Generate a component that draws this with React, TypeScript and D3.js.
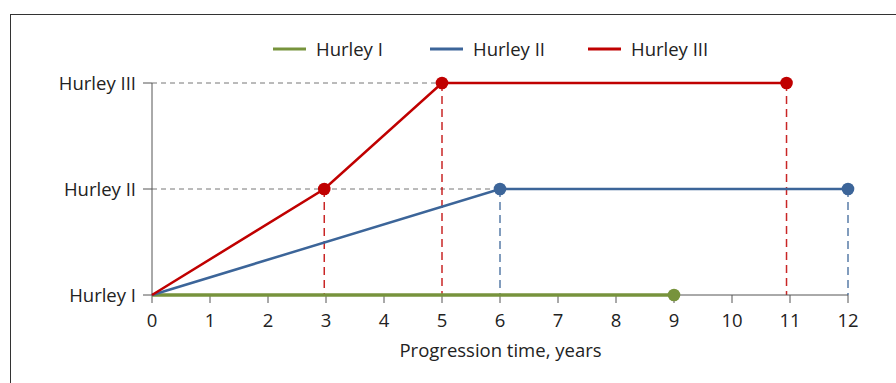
import React from "react";
import * as d3 from "d3";

const xTicks = [0, 1, 2, 3, 4, 5, 6, 7, 8, 9, 10, 11, 12];
const stages = ["Hurley I", "Hurley II", "Hurley III"];
const seriesNames = ["Hurley I", "Hurley II", "Hurley III"];
const seriesColors = ["#77933c", "#3c6599", "#c00000"];
const greenX = [0, 9];
const greenY = [0, 0];
const blueX = [0, 6, 12];
const blueY = [0, 1, 1];
const redX = [0, 2.97, 5, 10.94];
const redY = [0, 1, 2, 2];
// dots: index of points shown with markers
const greenDots = [1];
const blueDots = [1, 2];
const redDots = [1, 2, 3];

export default function App() {
  const W = 896, H = 383;
  const x = d3.scaleLinear().domain([0, 12]).range([152, 848]);
  const y = d3.scaleLinear().domain([0, 2]).range([295, 83]);
  const font = "'Open Sans', 'Noto Sans', sans-serif";
  const fs = 18.5;
  const series = [
    { xs: greenX, ys: greenY, dots: greenDots, color: seriesColors[0], w: 3.5 },
    { xs: blueX, ys: blueY, dots: blueDots, color: seriesColors[1], w: 2.5 },
    { xs: redX, ys: redY, dots: redDots, color: seriesColors[2], w: 2.5 },
  ];
  const line = d3.line<[number, number]>().x(d => x(d[0])).y(d => y(d[1]));
  const axisColor = "#555";
  return (
    <svg width={W} height={H} style={{ position: "absolute", left: 0, top: 0 }}>
      <rect x={0} y={0} width={W} height={H} fill="#fff" />
      <rect x={10.5} y={14.5} width={W + 20} height={H + 20} fill="none" stroke="#333" strokeWidth={1} />
      {/* gray horizontal guides */}
      <line x1={x(0)} x2={x(redX[2])} y1={y(2)} y2={y(2)} stroke="#777" strokeDasharray="5,4" strokeWidth={1} />
      <line x1={x(0)} x2={x(blueX[1])} y1={y(1)} y2={y(1)} stroke="#777" strokeDasharray="5,4" strokeWidth={1} />
      {/* colored vertical drops */}
      {series.map((s, si) =>
        s.dots.filter(i => s.ys[i] > 0).map(i => (
          <line key={`d${si}-${i}`} x1={x(s.xs[i])} x2={x(s.xs[i])} y1={y(s.ys[i])} y2={y(0)}
            stroke={s.color} strokeDasharray="8,5" strokeWidth={1.5} opacity={0.85} />
        ))
      )}
      {/* axes */}
      <line x1={x(0)} x2={x(0)} y1={y(2)} y2={y(0)} stroke={axisColor} strokeWidth={1} />
      <line x1={x(0)} x2={x(12)} y1={y(0)} y2={y(0)} stroke={axisColor} strokeWidth={1} />
      {xTicks.map(t => (
        <g key={t}>
          <line x1={x(t)} x2={x(t)} y1={y(0)} y2={y(0) + 8} stroke={axisColor} />
          <text x={x(t)} y={327} textAnchor="middle" fontFamily={font} fontSize={fs} fill="#222">{t}</text>
        </g>
      ))}
      {stages.map((s, i) => (
        <g key={s}>
          <line x1={x(0) - 9} x2={x(0)} y1={y(i)} y2={y(i)} stroke={axisColor} />
          <text x={136} y={y(i) + 7} textAnchor="end" fontFamily={font} fontSize={fs} fill="#222">{s}</text>
        </g>
      ))}
      <text x={500.5} y={356.5} textAnchor="middle" fontFamily={font} fontSize={fs} fill="#222">Progression time, years</text>
      {/* series */}
      {series.map((s, si) => (
        <g key={si}>
          <path d={line(s.xs.map((v, i) => [v, s.ys[i]] as [number, number])) || ""} fill="none" stroke={s.color} strokeWidth={s.w} />
          {s.dots.map(i => (
            <circle key={i} cx={x(s.xs[i])} cy={y(s.ys[i])} r={6.3} fill={s.color} />
          ))}
        </g>
      ))}
      {/* legend */}
      {seriesNames.map((n, i) => {
        const lx = [273, 430, 588][i];
        return (
          <g key={n}>
            <line x1={lx} x2={lx + 33} y1={49} y2={49} stroke={seriesColors[i]} strokeWidth={3} />
            <text x={lx + 43} y={55.5} fontFamily={font} fontSize={fs} fill="#222">{n}</text>
          </g>
        );
      })}
    </svg>
  );
}
